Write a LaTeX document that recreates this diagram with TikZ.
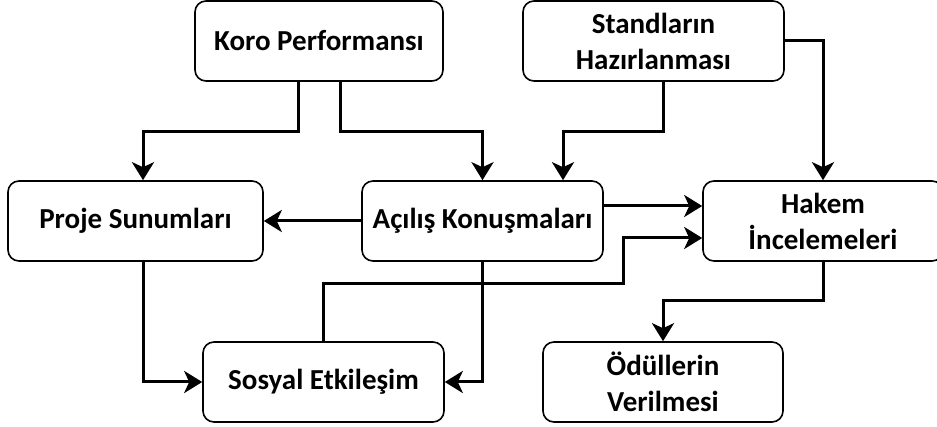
\documentclass[tikz,border=0pt]{standalone}
\usepackage{fontspec}
\setmainfont{Carlito}
\usetikzlibrary{arrows.meta}
\begin{document}
\begin{tikzpicture}[x=1pt,y=-1pt,
  box/.style={draw, line width=1.6pt, rounded corners=11pt, align=center,
    minimum height=80pt, inner sep=0pt,
    font=\fontsize{29}{36}\selectfont\bfseries},
  arr/.style={line width=3pt, -{Stealth[length=18pt,width=22pt,inset=5pt]}}]
\useasboundingbox (0,0) rectangle (937,427);
\node[box, minimum width=248pt] (koro)   at (319,41)    {Koro Performansı};
\node[box, minimum width=261pt] (stand)  at (653.5,41)  {Standların\\Hazırlanması};
\node[box, minimum width=255pt] (proje)  at (135.5,221) {Proje Sunumları};
\node[box, minimum width=241pt] (acilis) at (482.5,221) {Açılış Konuşmaları};
\node[box, minimum width=240pt] (hakem)  at (823,221)   {Hakem\\İncelemeleri};
\node[box, minimum width=241pt] (sosyal) at (323.5,382) {Sosyal Etkileşim};
\node[box, minimum width=240pt] (odul)   at (663,382)   {Ödüllerin\\Verilmesi};

\draw[arr] ([xshift=-21pt]koro.south) -- ++(0,50) -| ([xshift=7.5pt]proje.north);
\draw[arr] ([xshift=21pt]koro.south) -- ++(0,50) -| (acilis.north);
\draw[arr] ([xshift=9.5pt]stand.south) -- ++(0,50) -| ([xshift=80.5pt]acilis.north);
\draw[arr] (stand.east) -| (hakem.north);
\draw[arr] (acilis.west) -- (proje.east);
\draw[arr] ([yshift=15pt]acilis.east) -- ([yshift=15pt]hakem.west);
\draw[arr] (sosyal.north) -- ++(0,-58) -- ++(299.5,0) |- ([yshift=-17pt]hakem.west);
\draw[arr] (acilis.south) |- (sosyal.east);
\draw[arr] ([xshift=7.5pt]proje.south) |- (sosyal.west);
\draw[arr] (hakem.south) -- ++(0,39) -| (odul.north);
\end{tikzpicture}
\end{document}
